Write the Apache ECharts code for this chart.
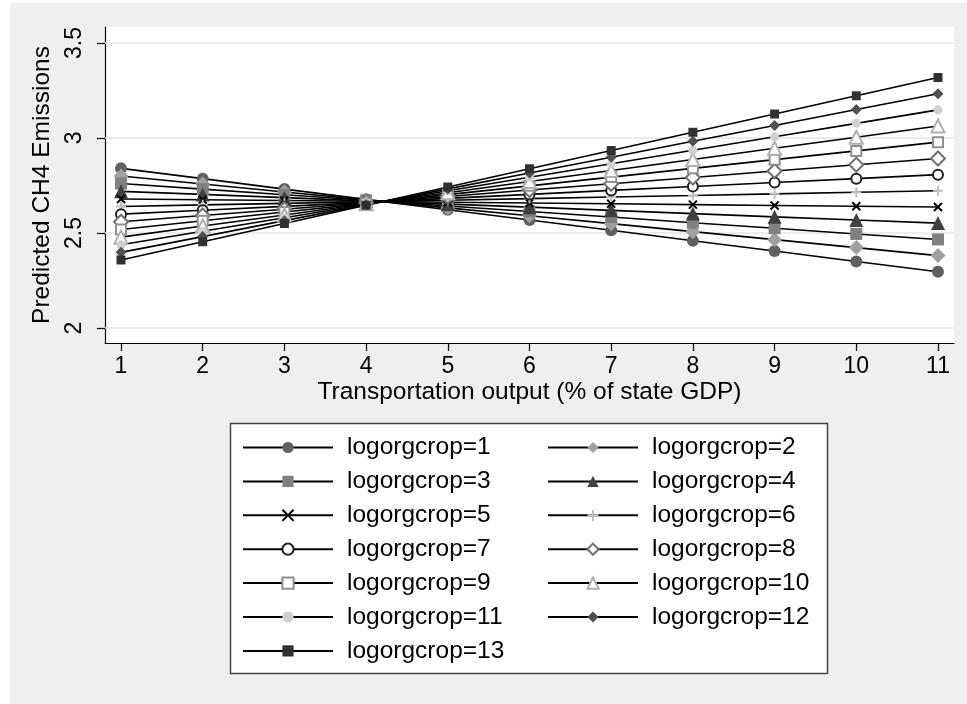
<!DOCTYPE html>
<html>
<head>
<meta charset="utf-8">
<script src="https://cdn.jsdelivr.net/npm/echarts@6/dist/echarts.min.js"></script>
<style>
  html, body { margin: 0; padding: 0; background: #fff; }
  #chart { width: 967px; height: 704px; }
</style>
</head>
<body>
<div id="chart"></div>
<script>
// transportation output (% of state GDP)
const xValues = [1, 2, 3, 4, 5, 6, 7, 8, 9, 10, 11];
const xTicks = [1, 2, 3, 4, 5, 6, 7, 8, 9, 10, 11];
const yTicks = [2, 2.5, 3, 3.5];

// predicted CH4 emissions, one array per logorgcrop level
const crop1 = [2.840, 2.786, 2.731, 2.677, 2.622, 2.568, 2.514, 2.459, 2.405, 2.350, 2.296];
const crop2 = [2.800, 2.758, 2.716, 2.674, 2.632, 2.591, 2.549, 2.507, 2.465, 2.423, 2.381];
const crop3 = [2.760, 2.731, 2.701, 2.672, 2.642, 2.613, 2.584, 2.554, 2.525, 2.495, 2.466];
const crop4 = [2.719, 2.703, 2.686, 2.669, 2.652, 2.636, 2.619, 2.602, 2.585, 2.568, 2.552];
const crop5 = [2.679, 2.675, 2.671, 2.667, 2.662, 2.658, 2.654, 2.649, 2.645, 2.641, 2.637];
const crop6 = [2.639, 2.648, 2.656, 2.664, 2.672, 2.681, 2.689, 2.697, 2.706, 2.714, 2.722];
const crop7 = [2.599, 2.620, 2.640, 2.661, 2.682, 2.703, 2.724, 2.745, 2.766, 2.786, 2.807];
const crop8 = [2.559, 2.592, 2.625, 2.659, 2.692, 2.726, 2.759, 2.792, 2.826, 2.859, 2.892];
const crop9 = [2.518, 2.564, 2.610, 2.656, 2.702, 2.748, 2.794, 2.840, 2.886, 2.932, 2.978];
const crop10 = [2.478, 2.537, 2.595, 2.654, 2.712, 2.771, 2.829, 2.887, 2.946, 3.004, 3.063];
const crop11 = [2.438, 2.509, 2.580, 2.651, 2.722, 2.793, 2.864, 2.935, 3.006, 3.077, 3.148];
const crop12 = [2.398, 2.481, 2.565, 2.648, 2.732, 2.816, 2.899, 2.983, 3.066, 3.150, 3.233];
const crop13 = [2.358, 2.454, 2.550, 2.646, 2.742, 2.838, 2.934, 3.030, 3.126, 3.222, 3.318];

const cropNames = ['logorgcrop=1', 'logorgcrop=2', 'logorgcrop=3', 'logorgcrop=4', 'logorgcrop=5',
  'logorgcrop=6', 'logorgcrop=7', 'logorgcrop=8', 'logorgcrop=9', 'logorgcrop=10',
  'logorgcrop=11', 'logorgcrop=12', 'logorgcrop=13'];
const cropValues = [crop1, crop2, crop3, crop4, crop5, crop6, crop7, crop8, crop9, crop10,
  crop11, crop12, crop13];

// marker look per level (stata mono scheme)
const xMark = 'path://M0,0L10,10M10,0L0,10';
const plusMark = 'path://M5,0L5,10M0,5L10,5';
const marks = [
  { symbol: 'circle', size: 12, color: '#606060' },
  { symbol: 'diamond', size: 15, color: '#a0a0a0' },
  { symbol: 'rect', size: 12, color: '#808080' },
  { symbol: 'triangle', size: 14, color: '#404040' },
  { symbol: xMark, size: 8, color: '#000000', stroke: true },
  { symbol: plusMark, size: 10, color: '#c0c0c0', stroke: true },
  { symbol: 'emptyCircle', size: 10, color: '#202020', empty: true },
  { symbol: 'emptyDiamond', size: 14, color: '#707070', empty: true },
  { symbol: 'emptyRect', size: 10, color: '#909090', empty: true },
  { symbol: 'emptyTriangle', size: 13, color: '#b0b0b0', empty: true },
  { symbol: 'circle', size: 9, color: '#d0d0d0' },
  { symbol: 'diamond', size: 11, color: '#505050' },
  { symbol: 'rect', size: 9, color: '#303030' }
];

const font = '"Liberation Sans", Arial, Helvetica, sans-serif';

const series = cropValues.map((vals, i) => {
  const m = marks[i];
  const itemStyle = { color: m.color };
  if (m.stroke) {
    itemStyle.borderColor = m.color;
    itemStyle.borderWidth = 2;
  } else if (m.empty) {
    itemStyle.borderColor = m.color;
    itemStyle.borderWidth = 1.8;
  } else {
    itemStyle.borderWidth = 0;
  }
  return {
    name: cropNames[i],
    type: 'line',
    data: vals.map((v, j) => [xValues[j], v]),
    symbol: m.symbol,
    symbolSize: m.size,
    showSymbol: true,
    lineStyle: { color: '#000', width: 1.6 },
    itemStyle: itemStyle,
    z: 3
  };
});

// light gridlines at the y ticks
series.unshift({
  name: 'grid',
  type: 'line',
  data: [],
  silent: true,
  z: 1,
  markLine: {
    silent: true,
    z: 1,
    symbol: ['none', 'none'],
    label: { show: false },
    lineStyle: { color: '#e6e6e6', width: 1.5, type: 'solid' },
    data: yTicks.map(v => ({ yAxis: v }))
  }
});

const legendBase = {
  orient: 'vertical',
  top: 435,
  padding: 0,
  itemWidth: 90,
  itemHeight: 14,
  itemGap: 8.9,
  selectedMode: false,
  textStyle: { fontFamily: font, fontSize: 24.5, color: '#000', lineHeight: 25, padding: [0, 0, 0, 9] }
};

const chart = echarts.init(document.getElementById('chart'));
chart.setOption({
  animation: false,
  backgroundColor: '#efefef',
  graphic: [
    { type: 'rect', left: 0, top: 0, shape: { width: 10, height: 704 }, style: { fill: '#fff' }, z: -5 },
    { type: 'rect', left: 0, top: 0, shape: { width: 967, height: 3 }, style: { fill: '#fff' }, z: -5 },
    { type: 'rect', shape: { x: 230.5, y: 423.5, width: 597, height: 250 },
      style: { fill: '#fff', stroke: '#444', lineWidth: 1.5 }, z: 0 }
  ],
  grid: {
    left: 105, right: 13, top: 27, bottom: 361,
    show: true, backgroundColor: '#fff', borderWidth: 0
  },
  xAxis: {
    type: 'value',
    min: 0.804, max: 11.196,
    name: 'Transportation output (% of state GDP)',
    nameLocation: 'middle',
    nameGap: 37,
    nameTextStyle: { fontFamily: font, fontSize: 24.5, color: '#000' },
    axisLine: { show: true, lineStyle: { color: '#000', width: 1.2 } },
    axisTick: { show: true, length: 8, customValues: xTicks, lineStyle: { color: '#000', width: 1.2 } },
    axisLabel: { customValues: xTicks, fontFamily: font, fontSize: 23, color: '#000', margin: 12 },
    splitLine: { show: false }
  },
  yAxis: {
    type: 'value',
    min: 1.921, max: 3.584,
    name: 'Predicted CH4 Emissions',
    nameLocation: 'middle',
    nameGap: 22,
    nameTextStyle: { fontFamily: font, fontSize: 24.5, color: '#000' },
    axisLine: { show: true, lineStyle: { color: '#000', width: 1.2 } },
    axisTick: { show: true, length: 8, customValues: yTicks, lineStyle: { color: '#000', width: 1.2 } },
    axisLabel: { customValues: yTicks, rotate: 90, fontFamily: font, fontSize: 23, color: '#000', margin: 19 },
    splitLine: { show: false }
  },
  legend: [
    Object.assign({}, legendBase, { left: 242, data: cropNames.filter((n, i) => i % 2 === 0) }),
    Object.assign({}, legendBase, { left: 547, data: cropNames.filter((n, i) => i % 2 === 1) })
  ],
  series: series
});
</script>
</body>
</html>
